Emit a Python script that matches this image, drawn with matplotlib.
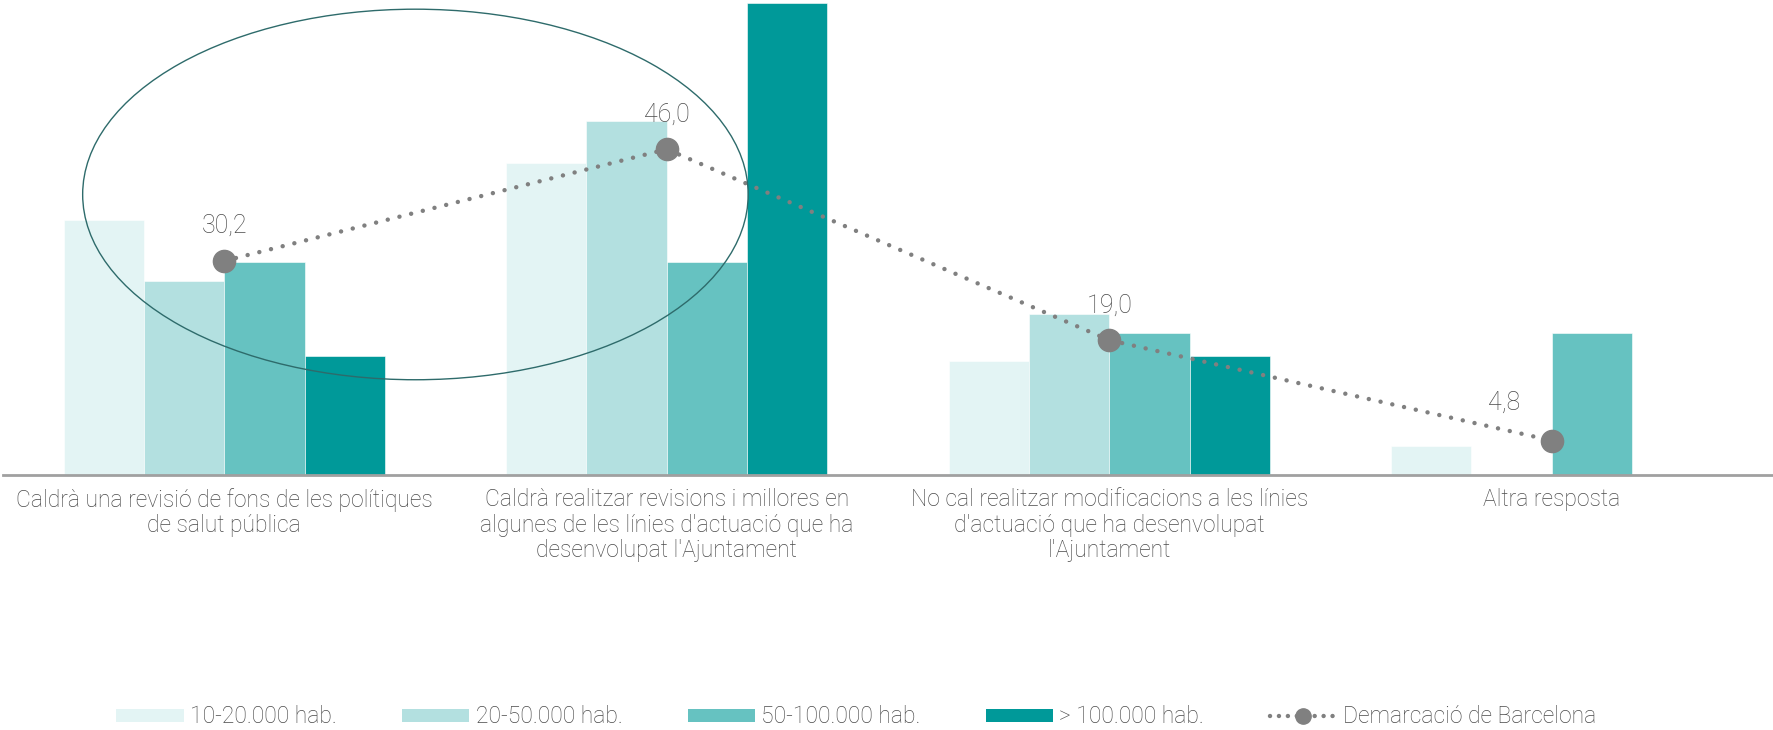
import numpy as np
import matplotlib
matplotlib.use("Agg")
import matplotlib.pyplot as plt
from matplotlib.patches import Ellipse, Patch
from matplotlib.lines import Line2D

plt.rcParams['font.family'] = ['Roboto', 'DejaVu Sans']
plt.rcParams['font.weight'] = 'light'

categories = [
    "Caldrà una revisió de fons de les polítiques\nde salut pública",
    "Caldrà realitzar revisions i millores en\nalgunes de les línies d'actuació que ha\ndesenvolupat l'Ajuntament",
    "No cal realitzar modificacions a les línies\nd'actuació que ha desenvolupat\nl'Ajuntament",
    "Altra resposta",
]
series_names = ["10-20.000 hab.", "20-50.000 hab.", "50-100.000 hab.", "> 100.000 hab."]
hab_10_20 = [36.0, 44.0, 16.0, 4.0]
hab_20_50 = [27.3, 50.0, 22.7, 0.0]
hab_50_100 = [30.0, 30.0, 20.0, 20.0]
hab_100_plus = [16.7, 66.7, 16.7, 0.0]
demarcacio = [30.2, 46.0, 19.0, 4.8]
demarcacio_labels = ["30,2", "46,0", "19,0", "4,8"]

colors = ["#e3f4f4", "#b3e0e0", "#66c2c1", "#009999"]
line_color = "#808080"
text_color = "#4a4a4a"

fig = plt.figure(figsize=(17.73, 7.30), dpi=100)
ax = fig.add_axes([0.0017, 0.35, 0.9983, 0.65])

x = np.arange(len(categories))
w = 0.1816
series = [hab_10_20, hab_20_50, hab_50_100, hab_100_plus]
for i, (vals, c) in enumerate(zip(series, colors)):
    ax.bar(x + (i - 1.5) * w, vals, width=w, color=c, edgecolor="white", linewidth=0.4, zorder=2)

# Demarcació line with round dots
ax.plot(x, demarcacio, color=line_color, linewidth=3.2, linestyle=(0, (0.01, 2.7)),
        dash_capstyle="round", zorder=4)
ax.plot(x, demarcacio, "o", color=line_color, markersize=16, zorder=5)

# value labels above the points; the last one sits up and to the left
label_offsets = [(0, 25), (0, 25), (0, 25), (-34.5, 27.5)]
for xi, v, lab, off in zip(x, demarcacio, demarcacio_labels, label_offsets):
    ax.annotate(lab, (xi, v), xytext=off, textcoords="offset points",
                ha="center", va="center", fontsize=18, color=text_color)

# highlight ellipse
ax.add_patch(Ellipse((0.432, 39.6), 1.504, 52.4, fill=False, edgecolor="#2e6b6b",
                     linewidth=1.0, zorder=6))

ax.set_xlim(-0.5, 3.5)
ax.set_ylim(0, 67.1)
for s in ["top", "right", "left"]:
    ax.spines[s].set_visible(False)
ax.spines["bottom"].set_color("#a0a0a0")
ax.spines["bottom"].set_linewidth(2)
ax.set_yticks([])
ax.set_xticks(x)
ax.set_xticklabels(categories, fontsize=16.5, color=text_color, linespacing=1.12)
ax.tick_params(axis="x", length=0, pad=10)

handles = [Patch(facecolor=c, label=n) for c, n in zip(colors, series_names)]
handles.append(Line2D([0], [0], color=line_color, linewidth=3.2, linestyle=(0, (0.01, 2.0)),
                      dash_capstyle="round", marker="o", markersize=11,
                      label="Demarcació de Barcelona"))
fig.legend(handles=handles, loc="center", bbox_to_anchor=(0.483, 0.018), ncol=5,
           frameon=False, fontsize=16.5, labelcolor=text_color, handlelength=2.93,
           handleheight=0.5, handletextpad=0.28, columnspacing=2.85)

fig.savefig("out.png", dpi=100)
